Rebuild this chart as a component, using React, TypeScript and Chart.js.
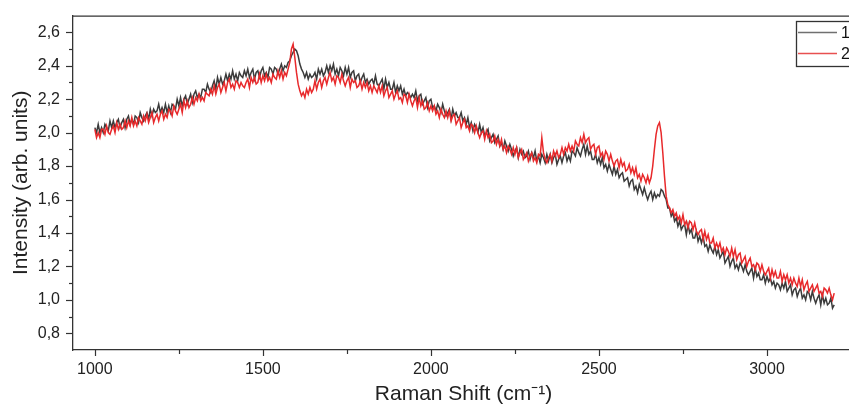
import React, { useEffect, useRef } from "react";
import { Chart, registerables } from "chart.js";

Chart.register(...registerables);

// Raman shift grid (cm^-1): first sample and spacing
const SHIFT_START = 1000;
const SHIFT_STEP = 5;

// Series "1" (dark grey) (one row = 50 cm^-1)
const SERIES_1 = [
  2.03, 2.00, 2.05, 2.00, 2.03, 2.00, 2.05, 2.03, 2.01, 2.07,
  2.03, 2.07, 2.03, 2.06, 2.08, 2.03, 2.06, 2.08, 2.03, 2.08,
  2.10, 2.05, 2.08, 2.05, 2.10, 2.09, 2.06, 2.12, 2.09, 2.07,
  2.10, 2.12, 2.08, 2.14, 2.10, 2.14, 2.12, 2.13, 2.17, 2.12,
  2.15, 2.12, 2.17, 2.12, 2.16, 2.12, 2.17, 2.16, 2.14, 2.20,
  2.16, 2.21, 2.16, 2.20, 2.22, 2.17, 2.20, 2.23, 2.18, 2.23,
  2.25, 2.21, 2.23, 2.21, 2.26, 2.26, 2.24, 2.29, 2.26, 2.24,
  2.28, 2.31, 2.26, 2.33, 2.29, 2.33, 2.29, 2.31, 2.35, 2.31,
  2.35, 2.32, 2.37, 2.32, 2.35, 2.31, 2.36, 2.34, 2.33, 2.37,
  2.34, 2.38, 2.33, 2.36, 2.38, 2.32, 2.36, 2.37, 2.33, 2.37,
  2.39, 2.34, 2.36, 2.33, 2.39, 2.38, 2.35, 2.39, 2.38, 2.35,
  2.38, 2.41, 2.37, 2.40, 2.39, 2.42, 2.43, 2.46, 2.48, 2.50,
  2.49, 2.46, 2.41, 2.38, 2.36, 2.33, 2.36, 2.32, 2.35, 2.33,
  2.34, 2.36, 2.32, 2.38, 2.35, 2.38, 2.34, 2.36, 2.40, 2.36,
  2.40, 2.37, 2.41, 2.35, 2.38, 2.34, 2.39, 2.37, 2.34, 2.39,
  2.35, 2.39, 2.33, 2.36, 2.37, 2.31, 2.34, 2.35, 2.30, 2.33,
  2.35, 2.30, 2.32, 2.29, 2.31, 2.32, 2.29, 2.34, 2.29, 2.28,
  2.30, 2.32, 2.26, 2.32, 2.27, 2.30, 2.26, 2.26, 2.30, 2.24,
  2.28, 2.25, 2.28, 2.23, 2.26, 2.22, 2.24, 2.23, 2.21, 2.23,
  2.21, 2.25, 2.19, 2.22, 2.23, 2.17, 2.19, 2.21, 2.15, 2.19,
  2.20, 2.15, 2.16, 2.13, 2.17, 2.15, 2.12, 2.17, 2.13, 2.10,
  2.12, 2.14, 2.08, 2.14, 2.10, 2.12, 2.09, 2.09, 2.12, 2.07,
  2.09, 2.05, 2.09, 2.03, 2.06, 2.01, 2.05, 2.03, 2.00, 2.05,
  2.00, 2.03, 1.98, 2.00, 2.02, 1.95, 1.97, 1.99, 1.94, 1.96,
  1.98, 1.92, 1.94, 1.90, 1.95, 1.92, 1.89, 1.93, 1.90, 1.86,
  1.89, 1.91, 1.85, 1.90, 1.87, 1.89, 1.85, 1.86, 1.89, 1.84,
  1.88, 1.85, 1.89, 1.83, 1.86, 1.82, 1.87, 1.85, 1.82, 1.87,
  1.83, 1.87, 1.82, 1.85, 1.87, 1.81, 1.84, 1.86, 1.82, 1.86,
  1.88, 1.83, 1.86, 1.83, 1.89, 1.88, 1.86, 1.91, 1.88, 1.86,
  1.90, 1.93, 1.87, 1.92, 1.87, 1.89, 1.84, 1.84, 1.87, 1.82,
  1.85, 1.81, 1.85, 1.79, 1.81, 1.77, 1.81, 1.78, 1.75, 1.80,
  1.75, 1.78, 1.73, 1.75, 1.76, 1.71, 1.72, 1.73, 1.68, 1.71,
  1.72, 1.66, 1.68, 1.64, 1.69, 1.66, 1.63, 1.67, 1.63, 1.60,
  1.63, 1.65, 1.60, 1.64, 1.61, 1.63, 1.62, 1.66, 1.65, 1.62,
  1.60, 1.55, 1.55, 1.50, 1.52, 1.47, 1.49, 1.44, 1.47, 1.42,
  1.44, 1.45, 1.39, 1.45, 1.40, 1.42, 1.37, 1.37, 1.41, 1.35,
  1.38, 1.34, 1.38, 1.32, 1.33, 1.29, 1.33, 1.30, 1.28, 1.32,
  1.27, 1.30, 1.25, 1.27, 1.29, 1.22, 1.24, 1.26, 1.20, 1.23,
  1.25, 1.19, 1.21, 1.18, 1.22, 1.20, 1.17, 1.21, 1.17, 1.15,
  1.17, 1.19, 1.13, 1.19, 1.14, 1.16, 1.12, 1.12, 1.15, 1.10,
  1.14, 1.11, 1.13, 1.09, 1.11, 1.07, 1.10, 1.09, 1.06, 1.10,
  1.07, 1.11, 1.05, 1.07, 1.09, 1.03, 1.06, 1.07, 1.02, 1.05,
  1.07, 1.01, 1.03, 1.00, 1.05, 1.04, 1.00, 1.05, 1.01, 0.98,
  1.01, 1.03, 0.97, 1.03, 0.98, 1.01, 0.97, 0.98, 1.01, 0.95,
  0.97,
];

// Series "2" (red) (one row = 50 cm^-1)
const SERIES_2 = [
  2.02, 1.97, 2.00, 1.97, 2.02, 2.02, 1.99, 2.04, 2.00, 1.99,
  2.02, 2.04, 2.00, 2.06, 2.02, 2.05, 2.02, 2.03, 2.07, 2.03,
  2.07, 2.04, 2.09, 2.04, 2.07, 2.04, 2.09, 2.07, 2.05, 2.10,
  2.07, 2.11, 2.06, 2.09, 2.12, 2.06, 2.09, 2.11, 2.07, 2.11,
  2.13, 2.08, 2.11, 2.09, 2.14, 2.13, 2.10, 2.16, 2.13, 2.11,
  2.14, 2.17, 2.12, 2.19, 2.15, 2.19, 2.15, 2.17, 2.21, 2.17,
  2.21, 2.19, 2.23, 2.19, 2.21, 2.19, 2.24, 2.23, 2.22, 2.26,
  2.23, 2.28, 2.23, 2.27, 2.29, 2.24, 2.27, 2.30, 2.25, 2.30,
  2.32, 2.27, 2.29, 2.26, 2.31, 2.30, 2.27, 2.30, 2.28, 2.27,
  2.30, 2.32, 2.27, 2.33, 2.30, 2.33, 2.29, 2.30, 2.35, 2.30,
  2.34, 2.31, 2.35, 2.31, 2.33, 2.30, 2.35, 2.33, 2.32, 2.37,
  2.33, 2.37, 2.32, 2.36, 2.34, 2.38, 2.42, 2.50, 2.53, 2.45,
  2.36, 2.29, 2.25, 2.22, 2.24, 2.21, 2.26, 2.23, 2.27, 2.24,
  2.26, 2.31, 2.26, 2.30, 2.32, 2.27, 2.31, 2.33, 2.29, 2.33,
  2.36, 2.31, 2.33, 2.29, 2.34, 2.33, 2.30, 2.35, 2.31, 2.28,
  2.31, 2.33, 2.27, 2.32, 2.30, 2.31, 2.27, 2.28, 2.31, 2.26,
  2.30, 2.27, 2.30, 2.25, 2.28, 2.24, 2.28, 2.26, 2.24, 2.28,
  2.24, 2.28, 2.22, 2.25, 2.27, 2.21, 2.23, 2.25, 2.20, 2.23,
  2.25, 2.20, 2.21, 2.18, 2.23, 2.22, 2.18, 2.23, 2.19, 2.16,
  2.19, 2.21, 2.15, 2.21, 2.16, 2.19, 2.14, 2.15, 2.18, 2.13,
  2.16, 2.13, 2.16, 2.11, 2.13, 2.09, 2.14, 2.11, 2.09, 2.13,
  2.09, 2.13, 2.07, 2.10, 2.11, 2.05, 2.07, 2.09, 2.03, 2.06,
  2.08, 2.03, 2.04, 2.01, 2.05, 2.04, 2.00, 2.04, 2.00, 1.97,
  2.00, 2.01, 1.96, 2.01, 1.97, 1.99, 1.94, 1.95, 1.98, 1.93,
  1.96, 1.92, 1.96, 1.90, 1.92, 1.88, 1.92, 1.90, 1.87, 1.91,
  1.87, 1.91, 1.85, 1.88, 1.90, 1.84, 1.86, 1.88, 1.83, 1.86,
  1.88, 1.83, 1.85, 1.82, 1.87, 1.86, 1.97, 1.88, 1.84, 1.82,
  1.85, 1.87, 1.83, 1.89, 1.86, 1.89, 1.85, 1.87, 1.91, 1.87,
  1.91, 1.89, 1.93, 1.89, 1.92, 1.89, 1.95, 1.93, 1.92, 1.97,
  1.94, 1.99, 1.94, 1.96, 1.97, 1.90, 1.92, 1.93, 1.87, 1.91,
  1.92, 1.86, 1.88, 1.84, 1.89, 1.87, 1.83, 1.87, 1.83, 1.80,
  1.83, 1.84, 1.79, 1.84, 1.80, 1.82, 1.77, 1.78, 1.81, 1.76,
  1.79, 1.75, 1.79, 1.73, 1.75, 1.71, 1.75, 1.73, 1.70, 1.74,
  1.70, 1.73, 1.80, 1.90, 1.99, 2.04, 2.06, 2.00, 1.88, 1.74,
  1.62, 1.57, 1.55, 1.52, 1.54, 1.50, 1.52, 1.48, 1.50, 1.46,
  1.51, 1.45, 1.47, 1.43, 1.47, 1.46, 1.42, 1.46, 1.41, 1.39,
  1.41, 1.42, 1.36, 1.41, 1.36, 1.39, 1.34, 1.34, 1.37, 1.31,
  1.34, 1.31, 1.34, 1.29, 1.31, 1.27, 1.31, 1.29, 1.26, 1.31,
  1.26, 1.30, 1.24, 1.27, 1.28, 1.22, 1.24, 1.26, 1.20, 1.23,
  1.25, 1.20, 1.21, 1.18, 1.22, 1.21, 1.17, 1.21, 1.17, 1.15,
  1.17, 1.19, 1.13, 1.18, 1.14, 1.17, 1.13, 1.13, 1.17, 1.11,
  1.15, 1.12, 1.15, 1.10, 1.13, 1.09, 1.13, 1.10, 1.08, 1.13,
  1.08, 1.12, 1.06, 1.09, 1.11, 1.05, 1.07, 1.09, 1.05, 1.07,
  1.09, 1.04, 1.05, 1.02, 1.07, 1.06, 1.04, 1.07, 1.03, 1.00,
  1.04,
];

const LEGEND_LABELS = ["1", "2"];
const SERIES_COLORS = ["#3b3b3b", "#e8292b"];
const LEGEND_LINE_COLORS = ["#707070", "#e85050"];
const X_TITLE = "Raman Shift (cm\u207B\u00B9)";
const Y_TITLE = "Intensity (arb. units)";
const X_MIN = 935;
const X_MAX = 3259;
const Y_MIN = 0.7;
const Y_MAX = 2.7;

const FONT = "'Liberation Sans', Arial, sans-serif";
const AXIS_COLOR = "#333333";

const toPoints = (vals: number[]) =>
  vals.map((v, i) => ({ x: SHIFT_START + i * SHIFT_STEP, y: v }));

const framePlugin = {
  id: "originFrame",
  afterDraw(chart: any) {
    const ctx = chart.ctx as CanvasRenderingContext2D;
    const { left, right, top, bottom } = chart.chartArea;
    const xs = chart.scales.x;
    const ys = chart.scales.y;
    ctx.save();
    ctx.strokeStyle = AXIS_COLOR;
    ctx.lineWidth = 1.3;
    ctx.beginPath();
    ctx.moveTo(left, top + 0.5);
    ctx.lineTo(right, top + 0.5);
    ctx.stroke();

    ctx.lineWidth = 1.2;
    ys.ticks.forEach((t: any) => {
      const k = Math.round(t.value * 10);
      if (k <= 7 || k >= 27) return;
      const y = Math.round(ys.getPixelForValue(t.value)) + 0.5;
      const len = k % 2 === 0 ? 7 : 4;
      ctx.beginPath();
      ctx.moveTo(left - len, y);
      ctx.lineTo(left, y);
      ctx.stroke();
    });
    xs.ticks.forEach((t: any) => {
      const v = Math.round(t.value);
      const x = Math.round(xs.getPixelForValue(t.value)) + 0.5;
      const len = v % 500 === 0 ? 6 : 4;
      ctx.beginPath();
      ctx.moveTo(x, bottom);
      ctx.lineTo(x, bottom + len);
      ctx.stroke();
    });

    // legend box (top-right, inside the frame)
    const bx = 796.5;
    const by = 21.5;
    ctx.fillStyle = "#ffffff";
    ctx.fillRect(bx, by, 56, 45);
    ctx.strokeStyle = AXIS_COLOR;
    ctx.lineWidth = 1.3;
    ctx.strokeRect(bx, by, 56, 45);
    ctx.font = `16px ${FONT}`;
    ctx.textBaseline = "middle";
    ctx.textAlign = "left";
    LEGEND_LABELS.forEach((lab, i) => {
      const y = 32.5 + i * 21;
      ctx.strokeStyle = LEGEND_LINE_COLORS[i];
      ctx.lineWidth = 1.3;
      ctx.beginPath();
      ctx.moveTo(798, y);
      ctx.lineTo(837, y);
      ctx.stroke();
      ctx.fillStyle = "#111111";
      ctx.fillText(lab, 841, y + 1);
    });
    ctx.restore();
  },
};

export default function App() {
  const ref = useRef<HTMLCanvasElement | null>(null);

  useEffect(() => {
    if (!ref.current) return;
    Chart.defaults.font.family = FONT;
    const chart = new Chart(ref.current, {
      type: "line",
      data: {
        datasets: [
          {
            label: LEGEND_LABELS[0],
            data: toPoints(SERIES_1),
            borderColor: SERIES_COLORS[0],
            borderWidth: 1.5,
            pointRadius: 0,
            tension: 0,
            order: 1,
          },
          {
            label: LEGEND_LABELS[1],
            data: toPoints(SERIES_2),
            borderColor: SERIES_COLORS[1],
            borderWidth: 1.5,
            pointRadius: 0,
            tension: 0,
            order: 0,
          },
        ],
      },
      options: {
        responsive: false,
        maintainAspectRatio: false,
        devicePixelRatio: 1,
        animation: false,
        layout: { padding: { top: 15, right: 0, left: 0, bottom: 0 } },
        plugins: {
          legend: { display: false },
          tooltip: { enabled: false },
        },
        scales: {
          x: {
            type: "linear",
            min: X_MIN,
            max: X_MAX,
            afterFit: (s: any) => {
              s.height = 57;
            },
            grid: {
              display: true,
              drawOnChartArea: false,
              drawTicks: true,
              tickLength: 6,
              tickColor: "rgba(0,0,0,0)",
            },
            border: { display: true, color: AXIS_COLOR, width: 1.3 },
            ticks: {
              stepSize: 250,
              includeBounds: false,
              autoSkip: false,
              maxRotation: 0,
              padding: 4,
              color: "#222222",
              font: { size: 16, family: FONT },
              callback: (v: any) => {
                const n = Math.round(Number(v));
                return n % 500 === 0 ? String(n) : "";
              },
            },
            title: {
              display: true,
              text: X_TITLE,
              color: "#222222",
              font: { size: 21, family: FONT },
              padding: { top: 0, bottom: 0 },
            },
          },
          y: {
            type: "linear",
            min: Y_MIN,
            max: Y_MAX,
            afterFit: (s: any) => {
              s.width = 73;
            },
            grid: {
              display: true,
              drawOnChartArea: false,
              drawTicks: true,
              tickLength: 7,
              tickColor: "rgba(0,0,0,0)",
            },
            border: { display: true, color: AXIS_COLOR, width: 1.3 },
            ticks: {
              stepSize: 0.1,
              includeBounds: false,
              autoSkip: false,
              padding: 6,
              color: "#222222",
              font: { size: 16, family: FONT },
              callback: (v: any) => {
                const k = Math.round(Number(v) * 10);
                if (k % 2 !== 0) return "";
                return (k / 10).toFixed(1).replace(".", ",");
              },
            },
            title: {
              display: true,
              text: Y_TITLE,
              color: "#222222",
              font: { size: 21, family: FONT },
              padding: { top: 9, bottom: 0 },
            },
          },
        },
      },
      plugins: [framePlugin],
    });
    return () => chart.destroy();
  }, []);

  return (
    <div
      style={{
        position: "fixed",
        left: 0,
        top: 0,
        width: 849,
        height: 405,
        overflow: "hidden",
        background: "#ffffff",
      }}
    >
      <canvas
        ref={ref}
        width={855}
        height={407}
        style={{ display: "block", width: 855, height: 407 }}
      />
    </div>
  );
}
